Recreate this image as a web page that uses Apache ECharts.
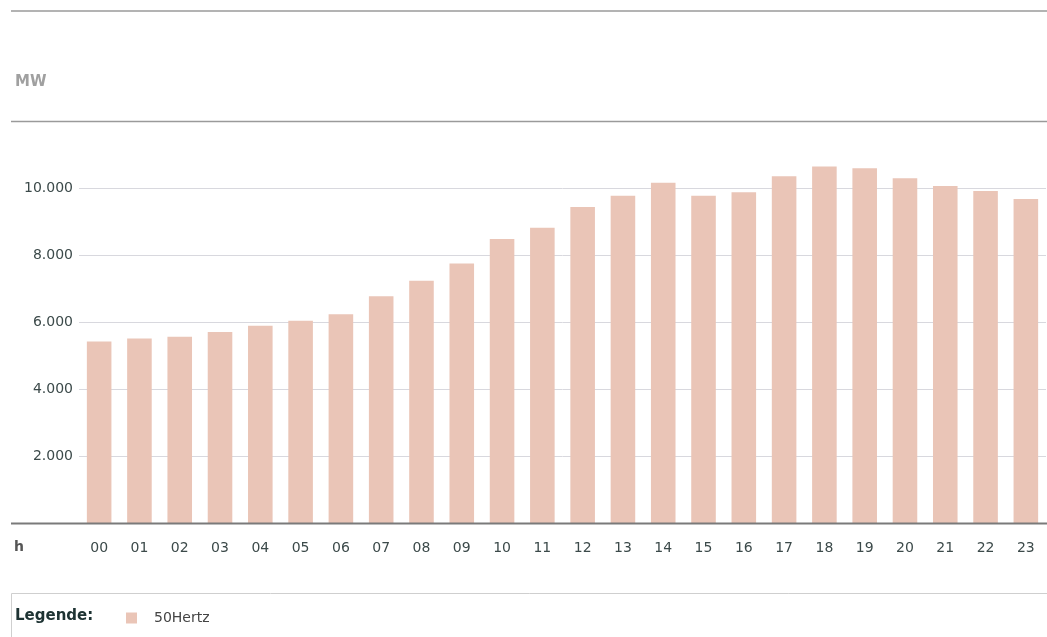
<!DOCTYPE html>
<html>
<head>
<meta charset="utf-8">
<script src="https://cdn.jsdelivr.net/npm/echarts@6/dist/echarts.min.js"></script>
<style>
  html, body { margin: 0; padding: 0; background: #fff; }
  #chart { width: 1047px; height: 637px; }
</style>
</head>
<body>
<div id="chart"></div>
<script>
const hours = ['00', '01', '02', '03', '04', '05', '06', '07', '08', '09', '10', '11',
    '12', '13', '14', '15', '16', '17', '18', '19', '20', '21', '22', '23']
const load50Hertz = [5420, 5510, 5560, 5700, 5890, 6040, 6230, 6770, 7230, 7750, 8480, 8810,
    9430, 9770, 10160, 9770, 9870, 10350, 10640, 10590, 10290, 10060, 9910, 9670]
const yTicks = [0, 2000, 4000, 6000, 8000, 10000, 12000]

const BAR = '#eac5b7'
const FONT = '"DejaVu Sans", Verdana, sans-serif'

const chart = echarts.init(document.getElementById('chart'), null, { renderer: 'canvas' })

const fmt = (v) => String(v).replace(/\B(?=(\d{3})+(?!\d))/g, '.')

chart.setOption({
    animation: false,
    textStyle: { fontFamily: FONT },
    grid: { left: 79, right: 1, top: 121, bottom: 114, containLabel: false },
    legend: {
        left: 126,
        top: 611,
        padding: 0,
        icon: 'rect',
        itemWidth: 11,
        itemHeight: 11,
        textStyle: { color: '#444', fontSize: 14, fontFamily: FONT, padding: [0, 0, 0, 12] },
        data: ['50Hertz'],
    },
    xAxis: {
        type: 'category',
        data: hours,
        axisLine: { show: false },
        axisTick: { show: false },
        axisLabel: { color: '#3c4a4a', fontSize: 14, margin: 18, fontFamily: FONT },
    },
    yAxis: {
        type: 'value',
        min: yTicks[0],
        max: yTicks[yTicks.length - 1],
        interval: 2000,
        axisLine: { show: false },
        axisTick: { show: false },
        splitLine: { lineStyle: { color: '#d8d8de', width: 1 } },
        axisLabel: {
            color: '#3c4a4a',
            fontSize: 14,
            margin: 6,
            fontFamily: FONT,
            formatter: (v) => (v === 0 || v === 12000 ? '' : fmt(v)),
        },
    },
    graphic: [
        { type: 'line', z: 100, shape: { x1: 11, y1: 11, x2: 1047, y2: 11 }, style: { stroke: '#9a9a9a', lineWidth: 1.5 } },
        { type: 'line', z: 100, shape: { x1: 11, y1: 121.5, x2: 1047, y2: 121.5 }, style: { stroke: '#9a9a9a', lineWidth: 1.5 } },
        { type: 'line', z: 100, shape: { x1: 11, y1: 523.5, x2: 1047, y2: 523.5 }, style: { stroke: '#7a7a7a', lineWidth: 2 } },
        { type: 'text', left: 15, top: 75, style: { text: 'MW', fill: '#a0a0a0', font: 'bold 15px ' + FONT } },
        { type: 'text', left: 14, top: 540, style: { text: 'h', fill: '#555', font: 'bold 14px ' + FONT } },
        { type: 'polyline', z: 100, shape: { points: [[11.5, 637], [11.5, 593.5], [1047, 593.5]] }, style: { stroke: '#cfcfcf', lineWidth: 1, fill: null } },
        { type: 'text', left: 15, top: 609, style: { text: 'Legende:', fill: '#1e3333', font: 'bold 15px ' + FONT } },
    ],
    series: [
        {
            name: '50Hertz',
            type: 'bar',
            data: load50Hertz,
            barWidth: '61%',
            itemStyle: { color: BAR },
        },
    ],
})
</script>
</body>
</html>
